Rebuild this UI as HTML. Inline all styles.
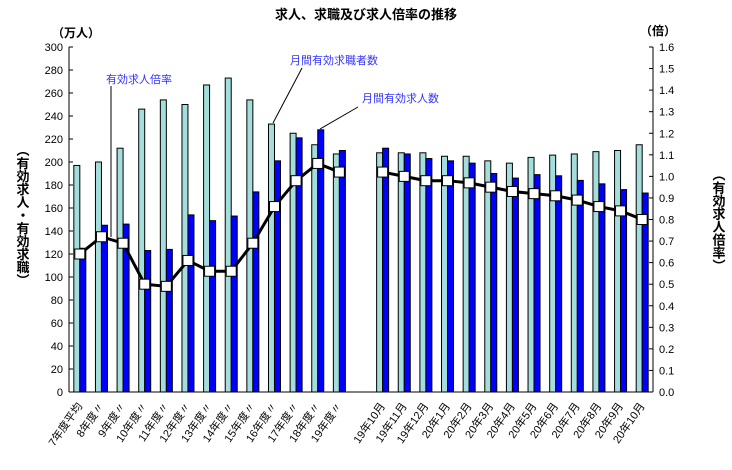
<!DOCTYPE html>
<html><head><meta charset="utf-8"><style>
body{margin:0;background:#fff;}
svg text{font-family:"Liberation Sans","Noto Sans CJK JP",sans-serif;}
</style></head><body>
<svg id="c" width="732" height="465" xmlns="http://www.w3.org/2000/svg">
<text x="366" y="19" text-anchor="middle" font-size="13" font-weight="bold">求人、求職及び求人倍率の推移</text>
<text x="52" y="37" font-size="12" font-weight="bold">（万人）</text>
<text x="640" y="35" font-size="12" font-weight="bold">（倍）</text>
<text x="22" y="215" font-size="13" font-weight="bold" writing-mode="tb" text-anchor="middle">（有効求人・有効求職）</text>
<text x="718" y="220" font-size="13" font-weight="bold" writing-mode="tb" text-anchor="middle">（有効求人倍率）</text>
<g id="g"></g>
</svg>
<script>
const categories=["7年度平均","8年度〃","9年度〃","10年度〃","11年度〃","12年度〃","13年度〃","14年度〃","15年度〃","16年度〃","17年度〃","18年度〃","19年度〃","","19年10月","19年11月","19年12月","20年1月","20年2月","20年3月","20年4月","20年5月","20年6月","20年7月","20年8月","20年9月","20年10月"];
const offers=[197,200,212,246,254,250,267,273,254,233,225,215,207,null,208,208,208,205,205,201,199,204,206,207,209,210,215];
const seekers=[125,145,146,123,124,154,149,153,174,201,221,228,210,null,212,207,203,201,199,190,186,189,188,184,181,176,173];
const ratio=[0.64,0.72,0.69,0.50,0.49,0.61,0.56,0.56,0.69,0.86,0.98,1.06,1.02,null,1.02,1.00,0.98,0.98,0.97,0.95,0.93,0.92,0.91,0.89,0.86,0.84,0.80];
const leftTicks=[0,20,40,60,80,100,120,140,160,180,200,220,240,260,280,300];
const rightTicks=["0.0","0.1","0.2","0.3","0.4","0.5","0.6","0.7","0.8","0.9","1.0","1.1","1.2","1.3","1.4","1.5","1.6"];
const X0=69,X1=653,Y0=392,Y1=47,NS='http://www.w3.org/2000/svg';
const slot=(X1-X0)/categories.length;
const yL=v=>Y0-(v/300)*(Y0-Y1);
const yR=v=>Y0-(v/1.6)*(Y0-Y1);
const xC=i=>X0+slot*(i+0.5);
const g=document.getElementById('g');
function mk(t,a){const e=document.createElementNS(NS,t);for(const k in a)e.setAttribute(k,a[k]);g.appendChild(e);return e;}
// axes
let e=mk('line',{x1:X0,y1:Y1,x2:X0,y2:Y0,stroke:'#000'});


e=mk('line',{x1:X1,y1:Y1,x2:X1,y2:Y0,stroke:'#000'});


leftTicks.forEach(v=>{const y=yL(v);mk('line',{x1:X0,y1:y,x2:X0+4,y2:y,stroke:'#000'});
 const t=mk('text',{x:X0-6,y:y+4,'font-size':11,'text-anchor':'end'});t.textContent=v;
 
 });
rightTicks.forEach(s=>{const y=yR(+s);mk('line',{x1:X1-4,y1:y,x2:X1,y2:y,stroke:'#000'});
 const t=mk('text',{x:X1+6,y:y+4,'font-size':11});t.textContent=s;
 
 });
// bars
const bw=6;
categories.forEach((c,i)=>{
 if(offers[i]!=null){let r=mk('rect',{x:xC(i)-bw,y:yL(offers[i]),width:bw,height:Y0-yL(offers[i]),fill:'#a3dedd',stroke:'#000','stroke-width':1});
  
  
  r=mk('rect',{x:xC(i),y:yL(seekers[i]),width:bw,height:Y0-yL(seekers[i]),fill:'#0000ff',stroke:'#000','stroke-width':1});
  
  }
 if(c){const x=xC(i)+3,y=Y0+14;const t=mk('text',{x:x,y:y,'font-size':11,'text-anchor':'end',transform:`rotate(-55 ${x} ${y})`});t.textContent=c;
  
  }
});
e=mk('line',{x1:X0,y1:Y0,x2:X1,y2:Y0,stroke:'#000'});


// line segments
[[0,13],[14,27]].forEach(([a,b])=>{let pts=[];for(let i=a;i<b;i++)pts.push(xC(i)+','+yR(ratio[i]));
 const p=mk('polyline',{points:pts.join(' '),fill:'none',stroke:'#000','stroke-width':3});
 
 });
ratio.forEach((v,i)=>{if(v==null)return;const m=mk('rect',{x:xC(i)-5,y:yR(v)-5,width:10,height:10,fill:'#fff',stroke:'#000','stroke-width':1});
 
 });
// annotations
function ann(txt,tx,ty,x1,y1,x2,y2,name){mk('line',{x1:x1,y1:y1,x2:x2,y2:y2,stroke:'#000'});
 const t=mk('text',{x:tx,y:ty,'font-size':11,fill:'#3333ff'});t.textContent=txt;
 
 }
ann('有効求人倍率',106,83,111,86,111,237,'annotation-ratio');
ann('月間有効求職者数',290,64,302,68,273,123,'annotation-seekers');
ann('月間有効求人数',362,102,358,107,320,129,'annotation-offers');
</script>
</body></html>
